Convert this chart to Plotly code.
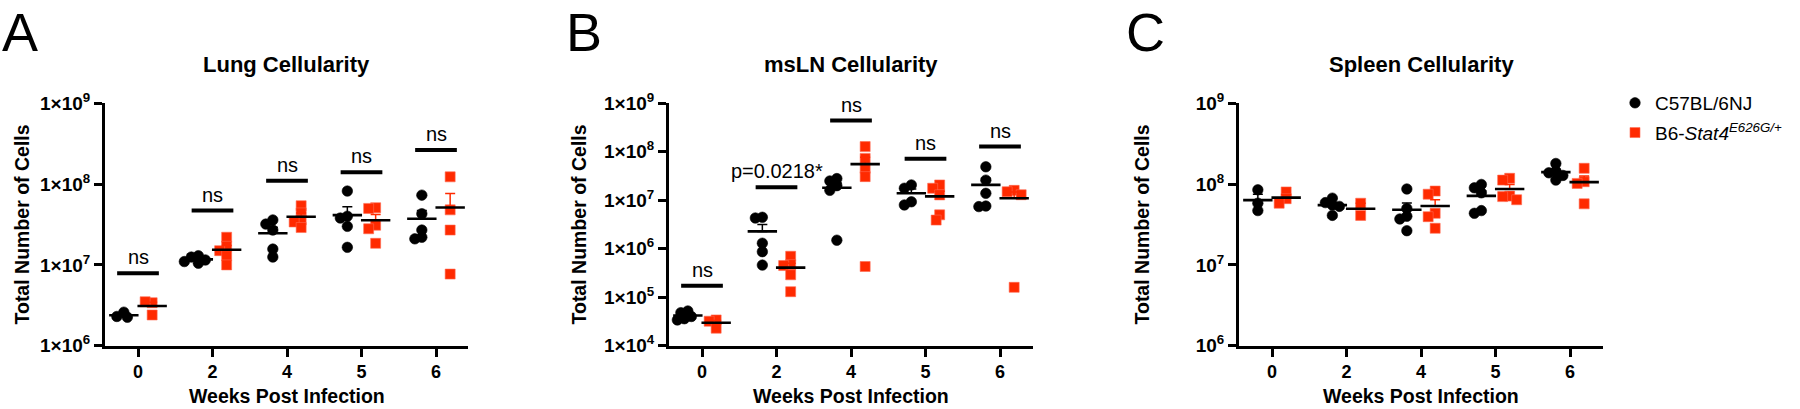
import numpy as np
import plotly.graph_objects as go

# ---------------- data ----------------
weeks = ['0', '2', '4', '5', '6']
wt_name = 'C57BL/6NJ'
mut_name = 'B6-<i>Stat4</i><sup><i>E626G/+</i></sup>'

lung_wt = [[2.6e6, 2.3e6, 2.25e6],
           [1.3e7, 1.25e7, 1.15e7, 1.1e7, 1.05e7],
           [3.6e7, 3.2e7, 2.7e7, 1.57e7, 1.25e7],
           [8.2e7, 4.0e7, 3.8e7, 3.0e7, 1.65e7],
           [7.3e7, 4.3e7, 2.7e7, 2.2e7, 2.1e7]]
lung_mut = [[3.4e6, 3.5e6, 2.4e6],
            [2.2e7, 1.7e7, 1.5e7, 1.3e7, 1.0e7],
            [5.4e7, 4.4e7, 3.6e7, 3.4e7, 2.9e7],
            [5.1e7, 5.0e7, 3.1e7, 2.8e7, 1.85e7],
            [1.23e8, 4.8e7, 2.7e7, 7.7e6]]

msln_wt = [[5.2e4, 4.8e4, 4.0e4, 3.6e4, 3.4e4],
           [4.46e6, 4.3e6, 1.3e6, 8.7e5, 4.6e5],
           [2.8e7, 2.5e7, 2.0e7, 1.6e7, 1.5e6],
           [2.07e7, 1.77e7, 9.3e6, 8.0e6],
           [4.9e7, 2.6e7, 1.39e7, 7.6e6, 7.4e6]]
msln_mut = [[3.4e4, 3.2e4, 2.3e4],
            [7.0e5, 4.7e5, 4.5e5, 2.9e5, 1.3e5],
            [1.28e8, 7.3e7, 4.57e7, 3.07e7, 4.3e5],
            [2.07e7, 1.77e7, 1.29e7, 5.0e6, 3.9e6],
            [1.6e7, 1.5e7, 1.3e7, 1.6e5]]

spleen_wt = [[8.5e7, 5.8e7, 4.7e7],
             [6.7e7, 5.9e7, 5.5e7, 5.3e7, 4.1e7],
             [8.7e7, 5.0e7, 4.0e7, 3.7e7, 2.65e7],
             [9.9e7, 9.0e7, 7.8e7, 4.7e7, 4.35e7],
             [1.8e8, 1.45e8, 1.38e8, 1.28e8, 1.12e8]]
spleen_mut = [[8.0e7, 6.6e7, 5.8e7],
              [5.8e7, 4.1e7],
              [8.2e7, 7.5e7, 4.35e7, 3.95e7, 2.84e7],
              [1.18e8, 1.12e8, 7.1e7, 7.0e7, 6.4e7],
              [1.57e8, 1.07e8, 1.02e8, 5.7e7]]

lung_sig_text = ['ns', 'ns', 'ns', 'ns', 'ns']
lung_sig_y = [7.9e6, 4.7e7, 1.1e8, 1.4e8, 2.64e8]
msln_sig_text = ['ns', 'p=0.0218*', 'ns', 'ns', 'ns']
msln_sig_y = [1.73e5, 1.85e7, 4.4e8, 7.2e7, 1.28e8]

titles = ['Lung Cellularity', 'msLN Cellularity', 'Spleen Cellularity']
letters = ['A', 'B', 'C']

# ---------------- styles ----------------
FONT = 'Liberation Sans, Arial, sans-serif'
BLACK = '#000000'
RED = '#FF2A00'
W, H = 1800, 409
Y_TOP, Y_BOT = 103.3, 345.7
x_px = [(105, 468), (669, 1033), (1239, 1603)]
tick0_px = [138, 702, 1272]
unit_px = 74.5
letter_px = [0, 564, 1124]
ytitle_px = [21, 578, 1141]

panels = [
    dict(wt=lung_wt, mut=lung_mut, yr=(6, 9), sig_t=lung_sig_text, sig_y=lung_sig_y, short=False),
    dict(wt=msln_wt, mut=msln_mut, yr=(4, 9), sig_t=msln_sig_text, sig_y=msln_sig_y, short=False),
    dict(wt=spleen_wt, mut=spleen_mut, yr=(6, 9), sig_t=None, sig_y=None, short=True),
]


def swarm(vals, ppd, diam=6.0, step=3.5):
    """simple beeswarm offsets (in x units) for one group"""
    ys = np.log10(np.array(vals)) * ppd
    placed = []
    offs = []
    for y in ys:
        for k in range(0, 12):
            cands = [0.0] if k == 0 else [-k * step, k * step]
            ok = None
            for c in cands:
                if all((c - px) ** 2 + (y - py) ** 2 >= diam ** 2 for px, py in placed):
                    ok = c
                    break
            if ok is not None:
                placed.append((ok, y))
                offs.append(ok / unit_px)
                break
    return offs


fig = go.Figure()
annotations = []
layout_axes = {}
y_dom = [1 - Y_BOT / H, 1 - Y_TOP / H]

for p, pan in enumerate(panels):
    xs = '' if p == 0 else str(p + 1)
    xa, ya = 'x' + xs, 'y' + xs
    x0, x1 = x_px[p]
    t0 = tick0_px[p]
    xr = [(x0 - t0) / unit_px, (x1 - t0) / unit_px]
    ppd = (Y_BOT - Y_TOP) / (pan['yr'][1] - pan['yr'][0])

    for gi, (data, color, sym, off, name) in enumerate([
            (pan['wt'], BLACK, 'circle', -0.19, wt_name),
            (pan['mut'], RED, 'square', 0.19, mut_name)]):
        px_, py_ = [], []
        for i, vals in enumerate(data):
            jit = swarm(vals, ppd)
            for v, j in zip(vals, jit):
                px_.append(i + off + j)
                py_.append(v)
        fig.add_trace(go.Scatter(
            x=px_, y=py_, mode='markers', xaxis=xa, yaxis=ya,
            marker=dict(symbol=sym, size=10.5 if sym == 'circle' else 10, color=color,
                        line=dict(width=0.6, color=color if sym == 'circle' else '#FF6A50')),
            name=name, showlegend=(p == 0), legendgroup=name))
        means = [float(np.mean(v)) for v in data]
        sems = [float(np.std(v, ddof=1) / np.sqrt(len(v))) for v in data]
        fig.add_trace(go.Scatter(
            x=[i + off for i in range(len(data))], y=means, mode='markers',
            xaxis=xa, yaxis=ya, showlegend=False, hoverinfo='skip',
            marker=dict(symbol='line-ew', size=21, color=BLACK,
                        line=dict(width=2.6, color=BLACK)),
            error_y=dict(type='data', symmetric=False, array=sems,
                         arrayminus=[0] * len(sems), color=color,
                         thickness=1.5, width=5)))

    # significance bars
    if pan['sig_t'] is not None:
        bx, by = [], []
        for i, (t, yv) in enumerate(zip(pan['sig_t'], pan['sig_y'])):
            bx += [i - 0.28, i + 0.28, None]
            by += [yv, yv, None]
            annotations.append(dict(
                x=i, y=np.log10(yv), xref=xa, yref=ya, text=t, showarrow=False,
                yanchor='bottom', yshift=3,
                font=dict(family=FONT, size=20, color=BLACK)))
        fig.add_trace(go.Scatter(
            x=bx, y=by, mode='lines', xaxis=xa, yaxis=ya, showlegend=False,
            hoverinfo='skip', line=dict(color=BLACK, width=4)))

    exps = list(range(pan['yr'][0], pan['yr'][1] + 1))
    if pan['short']:
        ytext = ['10<sup>%d</sup>' % e for e in exps]
    else:
        ytext = ['1×10<sup>%d</sup>' % e for e in exps]

    layout_axes['xaxis' + xs] = dict(
        domain=[x0 / W, x1 / W], anchor=ya, range=xr, automargin=False,
        tickvals=list(range(len(weeks))), ticktext=weeks,
        showline=True, linewidth=3, linecolor=BLACK, mirror=False,
        ticks='outside', ticklen=8, tickwidth=3, tickcolor=BLACK,
        showgrid=False, zeroline=False,
        tickfont=dict(family=FONT, size=18, color=BLACK, weight='bold'))
    layout_axes['yaxis' + xs] = dict(
        domain=y_dom, anchor=xa, type='log', range=list(pan['yr']), automargin=False,
        tickvals=[10.0 ** e for e in exps], ticktext=ytext,
        showline=True, linewidth=3, linecolor=BLACK,
        ticks='outside', ticklen=8, tickwidth=3, tickcolor=BLACK,
        showgrid=False, zeroline=False,
        tickfont=dict(family=FONT, size=19, color=BLACK, weight='bold'))

    cx = (x0 + x1) / 2 / W
    annotations.append(dict(x=cx, y=1 - 64 / H, xref='paper', yref='paper',
                            text='<b>%s</b>' % titles[p], showarrow=False,
                            xanchor='center', yanchor='middle',
                            font=dict(family=FONT, size=22, color=BLACK)))
    annotations.append(dict(x=cx, y=1 - 396 / H, xref='paper', yref='paper',
                            text='<b>Weeks Post Infection</b>', showarrow=False,
                            xanchor='center', yanchor='middle',
                            font=dict(family=FONT, size=19.5, color=BLACK)))
    annotations.append(dict(x=ytitle_px[p] / W, y=1 - 224.5 / H, xref='paper', yref='paper',
                            text='<b>Total Number of Cells</b>', showarrow=False,
                            textangle=-90, xanchor='center', yanchor='middle',
                            font=dict(family=FONT, size=19.5, color=BLACK)))
    annotations.append(dict(x=letter_px[p] / W, y=1 - 0 / H, xref='paper', yref='paper',
                            text=letters[p], showarrow=False,
                            xanchor='left', yanchor='top',
                            font=dict(family=FONT, size=54, color=BLACK)))

fig.update_layout(
    width=W, height=H, margin=dict(l=0, r=0, t=0, b=0, autoexpand=False),
    paper_bgcolor='white', plot_bgcolor='white',
    font=dict(family=FONT, color=BLACK),
    annotations=annotations,
    legend=dict(x=1615 / W, y=1 - 84 / H, xanchor='left', yanchor='top',
                font=dict(family=FONT, size=19, color=BLACK),
                bgcolor='rgba(0,0,0,0)', tracegroupgap=2),
    **layout_axes)

fig.write_html('out.html', config={'displayModeBar': False},
               post_script="document.body.style.margin='0px';document.body.style.overflow='hidden';")
